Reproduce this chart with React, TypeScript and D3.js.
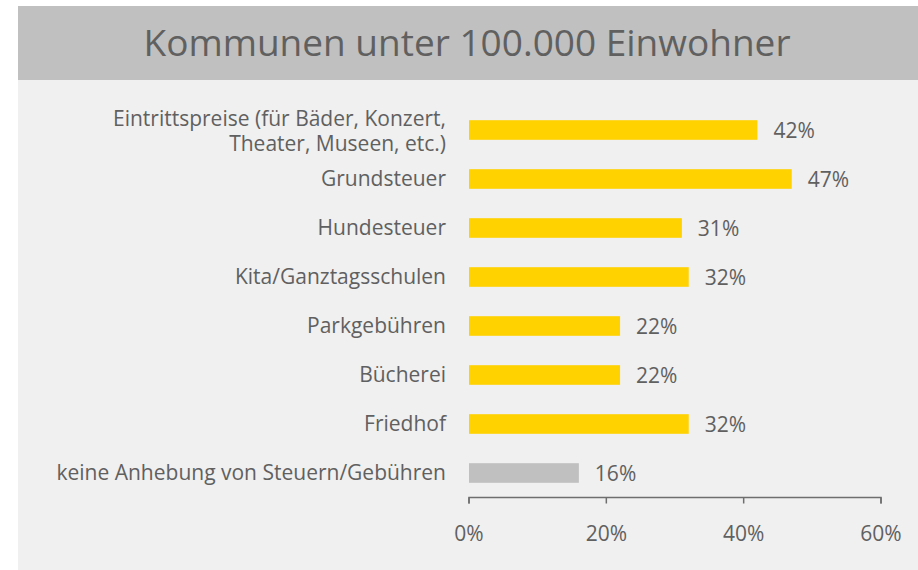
import React from "react";
import * as d3 from "d3";

const categories: string[][] = [
  ["Eintrittspreise (für Bäder, Konzert,", "Theater, Museen, etc.)"],
  ["Grundsteuer"],
  ["Hundesteuer"],
  ["Kita/Ganztagsschulen"],
  ["Parkgebühren"],
  ["Bücherei"],
  ["Friedhof"],
  ["keine Anhebung von Steuern/Gebühren"],
];
const values: number[] = [42, 47, 31, 32, 22, 22, 32, 16];
const highlight: boolean[] = [true, true, true, true, true, true, true, false];
const ticks: number[] = [0, 20, 40, 60];
const title = "Kommunen unter 100.000 Einwohner";

const W = 918;
const H = 570;
const FONT = "'Open Sans', Roboto, sans-serif";
const TEXT = "#606060";
const FS = 21;

export default function App() {
  const x = d3.scaleLinear().domain([0, 60]).range([469, 881]);
  const y = d3
    .scaleBand<number>()
    .domain(d3.range(categories.length))
    .range([105.5, 497.5])
    .paddingInner(0.6)
    .paddingOuter(0.3);
  const bw = y.bandwidth();
  const axisY = 497.5;

  return (
    <svg
      width={W}
      height={H}
      style={{ position: "absolute", left: 0, top: 0 }}
      fontFamily={FONT}
    >
      <rect x={18} y={6} width={W - 18} height={74} fill="#c0c0c0" />
      <rect x={18} y={80} width={W - 18} height={H - 80} fill="#f0f0f0" />
      <text x={467} y={56} textAnchor="middle" fontSize={37} fill={TEXT}>
        {title}
      </text>

      {categories.map((lines, i) => {
        const cy = (y(i) as number) + bw / 2;
        const v = values[i];
        return (
          <g key={i}>
            <rect
              x={x(0)}
              y={y(i)}
              width={x(v) - x(0)}
              height={bw}
              fill={highlight[i] ? "#ffd200" : "#c0c0c0"}
            />
            <text x={x(v) + 16} y={cy + 7.5} fontSize={FS} fill={TEXT}>
              {v}%
            </text>
            {lines.map((l, j) => (
              <text
                key={j}
                x={446}
                y={cy + 7 - (lines.length - 1) * 11 + j * 25}
                textAnchor="end"
                fontSize={FS}
                fill={TEXT}
              >
                {l}
              </text>
            ))}
          </g>
        );
      })}

      <path
        d={`M${x(0)},${axisY + 6}V${axisY}H${x(60)}V${axisY + 6}`}
        fill="none"
        stroke="#6e6e6e"
        strokeWidth={1.5}
      />
      {ticks.map((t) => (
        <g key={t}>
          <line
            x1={x(t)}
            x2={x(t)}
            y1={axisY}
            y2={axisY + 6}
            stroke="#6e6e6e"
            strokeWidth={1.5}
          />
          <text x={x(t)} y={541} textAnchor="middle" fontSize={FS} fill={TEXT}>
            {t}%
          </text>
        </g>
      ))}
    </svg>
  );
}
